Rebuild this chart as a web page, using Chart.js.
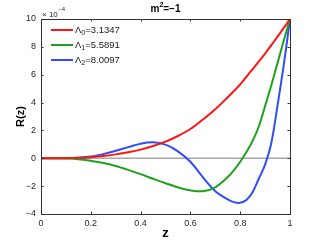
<!DOCTYPE html>
<html><head><meta charset="utf-8">
<script src="https://cdn.jsdelivr.net/npm/chart.js@4/dist/chart.umd.min.js"></script>
<style>html,body{margin:0;padding:0;background:#fff}canvas{display:block}</style>
</head><body>
<canvas id="c" width="321" height="242"></canvas>
<script>
// z positions (shared by all series)
const zValues = [0, 0.05, 0.1, 0.15, 0.2, 0.25, 0.3, 0.35, 0.4, 0.45, 0.5, 0.55, 0.6, 0.65, 0.7, 0.75, 0.775, 0.8, 0.825, 0.85, 0.875, 0.9, 0.925, 0.95, 0.975, 1.0];
// R(z) values in units of 1e-4
const redValues   = [0, 0.001, 0.01, 0.03, 0.08, 0.16, 0.28, 0.43, 0.62, 0.88, 1.2, 1.6, 2.1, 2.78, 3.52, 4.38, 4.83, 5.3, 5.85, 6.4, 6.95, 7.52, 8.12, 8.74, 9.36, 10];
const greenValues = [0, -0.002, -0.02, -0.07, -0.17, -0.34, -0.55, -0.83, -1.14, -1.47, -1.79, -2.08, -2.3, -2.36, -2.08, -1.35, -0.85, -0.25, 0.45, 1.25, 2.3, 3.75, 5.25, 6.85, 8.45, 10];
const blueValues  = [0, 0.002, 0.012, 0.045, 0.12, 0.3, 0.54, 0.8, 1.05, 1.15, 0.98, 0.5, -0.25, -1.35, -2.36, -2.95, -3.15, -3.2, -3.0, -2.42, -1.45, -0.45, 1.1, 3.8, 6.7, 10];
const seriesNames = ['0', '1', '2'];
const lambdaValues = ['3.1347', '5.5891', '8.0097'];
const seriesColors = ['#ff1414', '#1fa01f', '#2f4dff'];
const xTicks = [0, 0.2, 0.4, 0.6, 0.8, 1];
const yTicks = [-4, -2, 0, 2, 4, 6, 8, 10];
const titleText = ['m', '2', '=\u22121'];

const FONT = '"Liberation Sans", Arial, Helvetica, sans-serif';

const series = [redValues, greenValues, blueValues];
const datasets = series.map((vals, i) => ({
  label: '\u039B' + seriesNames[i] + '=' + lambdaValues[i],
  data: zValues.map((z, k) => ({x: z, y: vals[k]})),
  borderColor: seriesColors[i],
  borderWidth: 2,
  pointRadius: 0,
  fill: false,
  tension: 0.35
}));

const decor = {
  id: 'decor',
  beforeDatasetsDraw(chart) {
    const {ctx, chartArea: a, scales: {y}} = chart;
    ctx.save();
    ctx.strokeStyle = '#a8a8a8';
    ctx.lineWidth = 1.5;
    const y0 = y.getPixelForValue(0);
    ctx.beginPath(); ctx.moveTo(a.left, y0); ctx.lineTo(a.right, y0); ctx.stroke();
    ctx.restore();
  },
  afterDatasetsDraw(chart) {
    const {ctx, chartArea: a, scales: {x, y}} = chart;
    ctx.save();
    // box
    ctx.strokeStyle = '#333';
    ctx.lineWidth = 1;
    ctx.strokeRect(Math.round(a.left) + 0.5, Math.round(a.top) + 0.5, Math.round(a.right - a.left), Math.round(a.bottom - a.top));
    // inward ticks
    const tl = 2.5;
    ctx.beginPath();
    xTicks.forEach(v => {
      const px = Math.round(x.getPixelForValue(v)) + 0.5;
      ctx.moveTo(px, a.bottom); ctx.lineTo(px, a.bottom - tl);
      ctx.moveTo(px, a.top); ctx.lineTo(px, a.top + tl);
    });
    yTicks.forEach(v => {
      const py = Math.round(y.getPixelForValue(v)) + 0.5;
      ctx.moveTo(a.left, py); ctx.lineTo(a.left + tl, py);
      ctx.moveTo(a.right, py); ctx.lineTo(a.right - tl, py);
    });
    ctx.stroke();

    // legend
    ctx.textBaseline = 'middle';
    ctx.fillStyle = '#1a1a1a';
    const rows = [30, 45, 60];
    datasets.forEach((d, i) => {
      const ry = rows[i];
      ctx.strokeStyle = d.borderColor;
      ctx.lineWidth = 2;
      ctx.beginPath(); ctx.moveTo(51, ry); ctx.lineTo(73, ry); ctx.stroke();
      let tx = 75;
      ctx.font = '9.5px ' + FONT;
      ctx.textAlign = 'left';
      ctx.fillText('\u039B', tx, ry);
      tx += ctx.measureText('\u039B').width;
      ctx.font = '7px ' + FONT;
      ctx.fillText(seriesNames[i], tx, ry + 3);
      tx += ctx.measureText(seriesNames[i]).width;
      ctx.font = '9.5px ' + FONT;
      ctx.fillText('=' + lambdaValues[i], tx, ry);
    });

    // title
    ctx.fillStyle = '#000';
    const f1 = 'bold 10px ' + FONT, f2 = 'bold 7px ' + FONT;
    ctx.font = f1; const w1 = ctx.measureText(titleText[0]).width, w3 = ctx.measureText(titleText[2]).width;
    ctx.font = f2; const w2 = ctx.measureText(titleText[1]).width;
    let cx = (a.left + a.right) / 2 - (w1 + w2 + w3) / 2;
    ctx.textAlign = 'left';
    ctx.font = f1; ctx.fillText(titleText[0], cx, 9); cx += w1;
    ctx.font = f2; ctx.fillText(titleText[1], cx, 5); cx += w2;
    ctx.font = f1; ctx.fillText(titleText[2], cx, 9);

    // exponent label
    ctx.fillStyle = '#262626';
    ctx.font = '8px ' + FONT;
    ctx.fillText('\u00D7 10', a.left + 1, 14.5);
    const wx = ctx.measureText('\u00D7 10').width;
    ctx.font = '6px ' + FONT;
    ctx.fillText('\u22124', a.left + 1 + wx + 0.5, 9.5);

    // axis titles
    ctx.fillStyle = '#000';
    ctx.font = 'bold 13px ' + FONT;
    ctx.textAlign = 'center';
    ctx.fillText('z', (a.left + a.right) / 2, 233);
    ctx.save();
    ctx.translate(21, (a.top + a.bottom) / 2);
    ctx.rotate(-Math.PI / 2);
    ctx.font = 'bold 11px ' + FONT;
    ctx.fillText('R(z)', 0, 0);
    ctx.restore();
    ctx.restore();
  }
};

new Chart(document.getElementById('c'), {
  type: 'line',
  data: {datasets},
  options: {
    responsive: false,
    animation: false,
    devicePixelRatio: 1,
    layout: {padding: {left: 0, right: 31, top: 19, bottom: 0}},
    plugins: {legend: {display: false}, tooltip: {enabled: false}, title: {display: false}},
    scales: {
      x: {
        type: 'linear', min: 0, max: 1,
        afterBuildTicks: s => { s.ticks = xTicks.map(v => ({value: v})); },
        afterFit: s => { s.height = 28; },
        grid: {display: false, drawTicks: false},
        border: {display: false},
        ticks: {
          padding: 4, color: '#262626', font: {family: FONT, size: 9},
          maxRotation: 0, autoSkip: false,
          callback: v => String(v)
        }
      },
      y: {
        type: 'linear', min: -4, max: 10,
        afterBuildTicks: s => { s.ticks = yTicks.map(v => ({value: v})); },
        afterFit: s => { s.width = 41; },
        grid: {display: false, drawTicks: false},
        border: {display: false},
        ticks: {
          padding: 5, color: '#262626', font: {family: FONT, size: 9},
          autoSkip: false,
          callback: v => v < 0 ? '\u2212' + Math.abs(v) : String(v)
        }
      }
    }
  },
  plugins: [decor]
});
</script>
</body></html>
